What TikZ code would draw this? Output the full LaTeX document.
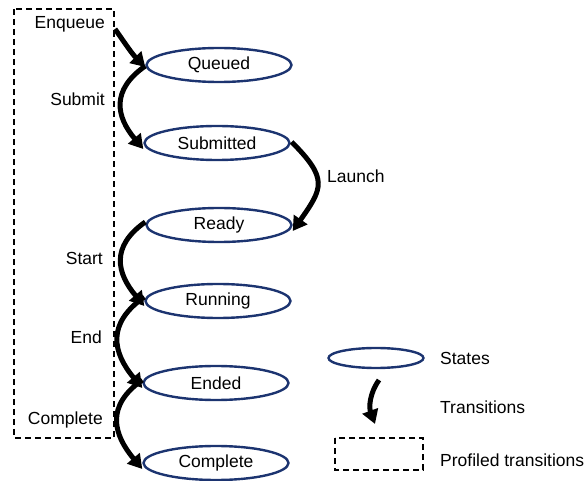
\documentclass[tikz,border=0pt]{standalone}
\usepackage{fontspec}
\setmainfont{Liberation Sans}
\usetikzlibrary{arrows.meta,shapes.geometric}
\definecolor{statenavy}{RGB}{28,52,112}
\begin{document}
\begin{tikzpicture}[x=1pt,y=-1pt,
  every node/.style={font=\fontsize{17.5}{21}\selectfont},
  state/.style={ellipse,draw=statenavy,line width=2.4pt,minimum width=145pt,minimum height=34pt,inner sep=0pt},
  legstate/.style={ellipse,draw=statenavy,line width=2.4pt,minimum width=95pt,minimum height=20pt,inner sep=0pt},
  trans/.style={line width=5pt,-{Triangle[length=14pt,width=16pt]}},
  profiled/.style={draw,line width=1.6pt,dash pattern=on 6pt off 4pt},
  lbl/.style={anchor=east,inner sep=0pt},
  leglbl/.style={anchor=west,inner sep=0pt}]
\useasboundingbox (0,0) rectangle (587,481);

% profiled transitions frame
\draw[profiled] (14,9) rectangle (114,438);

% states
\node[state] (q)  at (219,65)  {Queued};
\node[state] (s)  at (217,143) {Submitted};
\node[state] (r)  at (219,225) {Ready};
\node[state] (ru) at (218,301) {Running};
\node[state] (en) at (216,383) {Ended};
\node[state] (c)  at (216,463) {Complete};

% transition labels
\node[lbl] (lenq) at (105,24)  {Enqueue};
\node[lbl] (lsub) at (105,99)  {Submit};
\node[lbl] (lsta) at (103,258) {Start};
\node[lbl] (lend) at (102,337) {End};
\node[lbl] (lcom) at (103,420) {Complete};
\node[leglbl] (llau) at (327,176) {Launch};

% transitions
\coordinate (e0) at (115,29);
\draw[trans] (e0) to[out=-55,in=135] ([yshift=-2pt]q.west);
\draw[trans] ([yshift=-1pt]q.west) to[out=215,in=130,looseness=1.3] ([yshift=-6pt]s.west);
\draw[trans] ([xshift=1pt,yshift=1pt]s.east) to[out=-45,in=55,looseness=1.5] ([yshift=-6pt]r.east);
\draw[trans] ([yshift=3pt]r.west) to[out=215,in=130,looseness=1.3] ([yshift=-5pt]ru.west);
\draw[trans] ([yshift=4pt]ru.west) to[out=215,in=130,looseness=1.3] ([yshift=-5pt]en.west);
\draw[trans] ([yshift=3pt]en.west) to[out=215,in=130,looseness=1.3] ([yshift=-6pt]c.west);

% legend
\node[legstate] (ls) at (376,358) {};
\node[leglbl] (lst) at (440,358) {States};
\coordinate (la0) at (379,380);
\coordinate (la1) at (375,424);
\draw[trans] (la0) to[out=235,in=110] (la1);
\node[leglbl] (ltr) at (440,407) {Transitions};
\draw[profiled] (335,438) rectangle (423,470);
\node[leglbl] (lpr) at (440,460) {Profiled transitions};
\end{tikzpicture}
\end{document}
